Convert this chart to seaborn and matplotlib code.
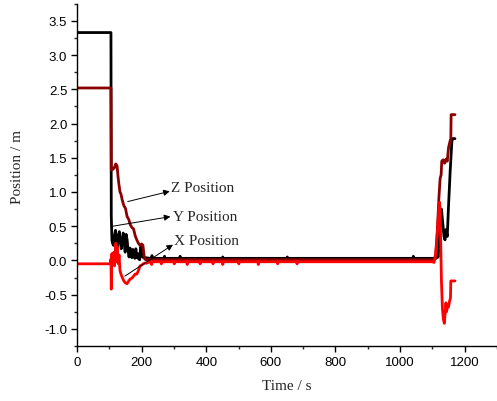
import matplotlib
matplotlib.use("Agg")
import matplotlib.pyplot as plt
import seaborn as sns
import pandas as pd
from matplotlib.ticker import MultipleLocator, FormatStrFormatter

# ---- data ----
time_y = [0, 105, 106, 108, 110, 113, 116, 119, 122, 125, 128, 131, 134, 137, 140, 143,
          146, 149, 152, 155, 158, 161, 164, 167, 170, 173, 176, 179, 182, 185, 188,
          191, 194, 197, 200, 203, 206, 209, 212, 225, 231, 232, 233, 260, 270, 271,
          272, 300, 318, 319, 320, 400, 450, 451, 452, 500, 600, 650, 651, 652, 700,
          800, 900, 1000, 1040, 1041, 1042, 1100,
          1110, 1118, 1124, 1128, 1132, 1136, 1139, 1142, 1146, 1150, 1155, 1160,
          1162, 1170]
pos_y = [3.33, 3.33, 0.65, 0.30, 0.25, 0.22, 0.36, 0.44, 0.28, 0.20, 0.36, 0.42, 0.27,
         0.17, 0.30, 0.40, 0.24, 0.12, 0.38, 0.30, 0.15, 0.05, 0.18, 0.10, 0.04, 0.16,
         0.07, 0.03, 0.17, 0.04, 0.10, 0.02, 0.01, 0.20, 0.18, 0.05, 0.04, 0.03, 0.04,
         0.03, 0.03, 0.07, 0.03, 0.03, 0.03, 0.06, 0.03, 0.03, 0.03, 0.06, 0.03, 0.03,
         0.03, 0.05, 0.03, 0.03, 0.03, 0.03, 0.05, 0.03, 0.03, 0.03, 0.03, 0.03, 0.03,
         0.06, 0.03, 0.03,
         0.03, 0.05, 0.50, 0.75, 0.55, 0.35, 0.30, 0.45, 0.35, 0.80, 1.30, 1.72, 1.78,
         1.78]

time_z = [0, 105, 106, 110, 115, 120, 124, 127, 130, 133, 136, 140, 145, 150, 155, 160,
          165, 170, 175, 180, 185, 190, 195, 200, 204, 208, 212, 230, 300, 400, 500,
          600, 700, 800, 900, 1000, 1105, 1110, 1115, 1120, 1124, 1127, 1129, 1133,
          1138, 1142, 1146, 1150, 1155, 1157, 1158, 1170]
pos_z = [2.52, 2.52, 1.32, 1.33, 1.35, 1.41, 1.38, 1.22, 1.10, 1.00, 0.97, 0.88, 0.80,
         0.76, 0.64, 0.60, 0.52, 0.48, 0.46, 0.36, 0.30, 0.25, 0.22, 0.24, 0.22, 0.05,
         0.01, 0.01, 0.01, 0.01, 0.01, 0.01, 0.01, 0.01, 0.01, 0.01, 0.01, 0.03, 0.40,
         0.90, 1.20, 1.25, 1.45, 1.47, 1.42, 1.48, 1.45, 1.65, 1.75, 1.75, 2.13, 2.13]

time_x = [0, 104, 105, 106, 107, 108, 109, 110, 112, 114, 116, 118, 120, 122, 124, 126,
          128, 130, 133, 136, 140, 145, 150, 155, 160, 165, 170, 175, 180, 185, 190,
          195, 200, 205, 210, 215, 220, 230, 231, 232, 260, 261, 262, 300, 301, 302,
          340, 341, 342, 380, 381, 382, 420, 421, 422, 450, 451, 452, 500, 501, 502,
          560, 561, 562, 620, 621, 622, 680, 681, 682, 700, 800, 900, 1000, 1100,
          1105, 1110, 1115, 1120,
          1122, 1124, 1126, 1128, 1131, 1134, 1137, 1139, 1142, 1144, 1147, 1150,
          1153, 1156, 1157, 1170]
pos_x = [-0.05, -0.05, 0.02, -0.42, -0.10, 0.10, -0.05, 0.08, 0.00, 0.12, -0.08, 0.05,
         0.25, -0.02, 0.20, 0.00, -0.05, 0.08, -0.15, -0.20, -0.25, -0.30, -0.33, -0.34,
         -0.30, -0.27, -0.26, -0.23, -0.20, -0.20, -0.15, -0.08, -0.07, -0.05, -0.04,
         -0.04, -0.03, -0.02, -0.06, -0.02, -0.02, -0.05, -0.02, -0.02, -0.05, -0.02,
         -0.02, -0.06, -0.02, -0.02, -0.05, -0.02, -0.02, -0.05, -0.02, -0.02, -0.06,
         -0.02, -0.02, -0.05, -0.02, -0.02, -0.06, -0.02, -0.02, -0.05, -0.02, -0.02,
         -0.05, -0.02, -0.02, -0.02, -0.02, -0.02, -0.02,
         -0.03, 0.10, 0.40, 0.75, 0.85, 0.70, 0.20, -0.30, -0.70, -0.86, -0.92, -0.80,
         -0.62, -0.75, -0.65, -0.68, -0.60, -0.55, -0.30, -0.30]

x_ticks = [0, 200, 400, 600, 800, 1000, 1200]
y_ticks = [-1.0, -0.5, 0.0, 0.5, 1.0, 1.5, 2.0, 2.5, 3.0, 3.5]
labels = ["Z Position", "Y Position", "X Position"]

# ---- plot ----
sns.set_style("ticks")
plt.rcParams["font.family"] = ["Liberation Sans", "DejaVu Sans"]

fig = plt.figure(figsize=(4.97, 4.02), dpi=100)
ax = fig.add_axes([0.155, 0.137, 0.845, 0.851])

df_y = pd.DataFrame({"t": time_y, "v": pos_y})
df_z = pd.DataFrame({"t": time_z, "v": pos_z})
df_x = pd.DataFrame({"t": time_x, "v": pos_x})

sns.lineplot(data=df_y, x="t", y="v", ax=ax, color="black", lw=2.0,
             sort=False, estimator=None)
sns.lineplot(data=df_z, x="t", y="v", ax=ax, color="#8B0000", lw=2.0,
             sort=False, estimator=None)
sns.lineplot(data=df_x, x="t", y="v", ax=ax, color="#FF0000", lw=2.0,
             sort=False, estimator=None)

ax.set_xlim(0, 1300)
ax.set_ylim(-1.25, 3.75)
ax.set_xticks(x_ticks)
ax.set_yticks(y_ticks)
ax.xaxis.set_minor_locator(MultipleLocator(100))
ax.yaxis.set_minor_locator(MultipleLocator(0.25))
ax.yaxis.set_major_formatter(FormatStrFormatter("%.1f"))
ax.tick_params(axis="both", which="major", direction="out", length=4, width=1,
               labelsize=9.5, colors="black", pad=3)
ax.tick_params(axis="both", which="minor", direction="out", length=2.5, width=1)
for s in ["top", "right"]:
    ax.spines[s].set_visible(False)
for s in ["left", "bottom"]:
    ax.spines[s].set_linewidth(1.0)
    ax.spines[s].set_color("black")

serif = ["Liberation Serif", "DejaVu Serif"]
ax.set_xlabel("Time / s", family=serif, fontsize=11, labelpad=8)
ax.set_ylabel("Position / m", family=serif, fontsize=11)
ax.yaxis.set_label_coords(-0.127, 0.527)

arrow = dict(arrowstyle="-|>", color="black", lw=0.7, mutation_scale=9,
             shrinkA=0, shrinkB=0)
ax.annotate("", xy=(287, 1.01), xytext=(157, 0.86), arrowprops=arrow)
ax.annotate("", xy=(289, 0.64), xytext=(111, 0.50), arrowprops=arrow)
ax.annotate("", xy=(297, 0.23), xytext=(148, -0.23), arrowprops=arrow)
ax.text(292, 1.07, labels[0], family=serif, fontsize=11, va="center", ha="left")
ax.text(297, 0.645, labels[1], family=serif, fontsize=11, va="center", ha="left")
ax.text(301, 0.29, labels[2], family=serif, fontsize=11, va="center", ha="left")

fig.savefig("out.png", dpi=100)
